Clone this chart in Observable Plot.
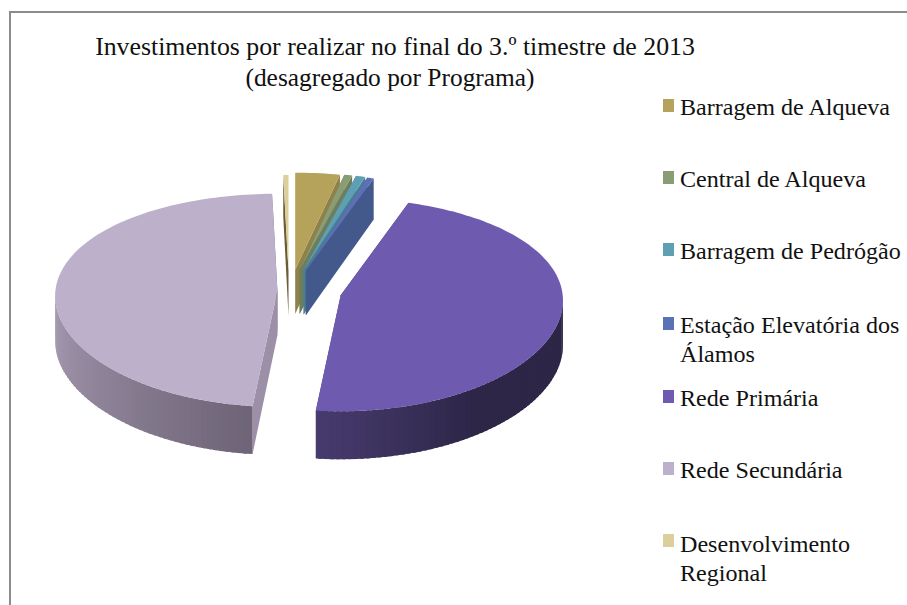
<!DOCTYPE html>
<html lang="pt">
<head>
<meta charset="utf-8">
<script src="https://cdn.jsdelivr.net/npm/d3@7"></script>
<script src="https://cdn.jsdelivr.net/npm/@observablehq/plot@0.6"></script>
<style>
  html, body { margin: 0; padding: 0; background: #fff; }
  #chart { position: relative; width: 907px; height: 605px; overflow: hidden; font-family: "Liberation Serif", serif; color: #111; }
  #chart svg { position: absolute; left: 0; top: 0; }
  .frame { position: absolute; left: 9px; top: 11px; width: 910px; height: 620px; border: 2px solid #8c8c8c; box-sizing: border-box; }
  .title { position: absolute; left: 95px; width: 600px; text-align: center; top: 32px; font-size: 25.8px; line-height: 30px; white-space: nowrap; }
  .title span { position: relative; left: -5px; font-size: 25.4px; }
  .item { position: absolute; left: 680px; font-size: 24.1px; line-height: 28.5px; white-space: nowrap; }
  .swatch { position: absolute; left: 663px; width: 11px; height: 13px; }
</style>
</head>
<body>
<div id="chart"></div>
<script>
// Investment still to be carried out, share per programme (%)
const programmes = ["Barragem de Alqueva", "Central de Alqueva", "Barragem de Pedrógão", "Estação Elevatória dos Álamos", "Rede Primária", "Rede Secundária", "Desenvolvimento Regional"];
const shares = [3.4, 0.6, 0.7, 0.5, 46.5, 47.9, 0.4];
const topColours = ["#b5a35b", "#8a9c74", "#5f9fb4", "#5a72b5", "#6e5bb0", "#bdb0ca", "#dccf9b"];
const wallNear = ["#8f8148", "#6e7d5c", "#4a7f90", "#43598c", "#483c70", "#6f6578", "#6a5d35"];
const wallFar = ["#8f8148", "#6e7d5c", "#4a7f90", "#43598c", "#2d2647", "#ab9fb6", "#6a5d35"];

// Exploded position of each wedge's tip, in pie radii from the chart origin
const tipX = [-0.06, -0.04, -0.022, -0.012, 0.145, -0.14, -0.09];
const tipY = [-0.13, -0.13, -0.128, -0.125, -0.015, -0.035, -0.12];

// Projection of the tilted disc: unit disc coordinates to scale units
const squash = 0.48, depth = 0.2, persX = 0.05, persY = 0.09;
const project = (th, r, tip, z = 0) => {
  const u = r * Math.sin(th), v = -r * Math.cos(th);
  return {
    x: tipX[tip] + u * (1 + persX * v),
    y: tipY[tip] + squash * v * (1 + persY * v) + z * depth * (1 + 0.08 * v)
  };
};

const rows = [];
const polygon = (id, fill, pts) => pts.forEach((p) => rows.push({id, fill, x: p.x, y: p.y}));
const arc = (a0, a1, tip, z, n) => d3.range(n + 1).map((i) => project(a0 + (a1 - a0) * i / n, 1, tip, z));

const total = d3.sum(shares);
let start = 0;
const wedges = shares.map((s, i) => {
  const a0 = start;
  const a1 = start + s / total * 2 * Math.PI;
  start = a1;
  return {i, a0, a1};
});

// Rim shading along a wedge: 0 at its clockwise-first end, 1 at the other.
// Rede Primária stays at its darkest until just past the lowest point of the disc.
const rimShade = (i, t) => i === 4 ? 1 - Math.max(0, (t - 0.55) / 0.45) : t;

// Painter's order: the wedges at the back first, then the two large ones
const order = [6, 0, 1, 2, 3, 4, 5];
for (const {i, a0, a1} of order.map((k) => wedges[k])) {
  const tipTop = project(0, 0, i), tipLow = project(0, 0, i, 1);
  const shade = d3.interpolateRgb(wallNear[i], wallFar[i]);

  // Cut faces of the wedge
  polygon(`${i}-end`, wallNear[i], [tipTop, project(a1, 1, i), project(a1, 1, i, 1), tipLow]);
  polygon(`${i}-start`, i === 5 ? "#9c8fa7" : wallNear[i], [tipTop, project(a0, 1, i), project(a0, 1, i, 1), tipLow]);

  // Rim, shaded strip by strip; each strip runs under the next one so no seams show
  const lo = Math.max(a0, Math.PI / 2), hi = Math.min(a1, 3 * Math.PI / 2);
  if (hi > lo) {
    const steps = Math.ceil((hi - lo) / (Math.PI / 120));
    const step = (hi - lo) / steps;
    for (let k = steps - 1; k >= 0; --k) {
      const b0 = lo + step * k, b1 = Math.min(hi, b0 + step * 1.6);
      polygon(`${i}-rim-${k}`, shade(rimShade(i, (b0 - lo) / (hi - lo))),
        [project(b0, 1, i), project(b1, 1, i), project(b1, 1, i, 1), project(b0, 1, i, 1)]);
    }
  }

  // Top face
  polygon(`${i}-top`, topColours[i], [tipTop, ...arc(a0, a1, i, 0, Math.max(6, Math.ceil((a1 - a0) * 40)))]);
}

// One radius of the pie is 222 px wide; y uses the same unit length
const radius = 222, originX = 308, originY = 298;
const chart = Plot.plot({
  width: 907,
  height: 605,
  margin: 0,
  x: {domain: [-originX / radius, (907 - originX) / radius], range: [0, 907], axis: null},
  y: {domain: [-originY / radius, (605 - originY) / radius], range: [0, 605], axis: null},
  color: {type: "identity"},
  style: {background: "transparent"},
  marks: [
    Plot.line(rows, {x: "x", y: "y", z: "id", fill: "fill", stroke: "none", curve: "linear-closed"})
  ]
});

const root = document.getElementById("chart");
const add = (cls, css, text) => {
  const el = document.createElement("div");
  el.className = cls;
  el.style.cssText = css;
  if (text) el.innerHTML = text;
  root.appendChild(el);
};
root.appendChild(chart);
add("frame", "");
add("title", "", "Investimentos por realizar no final do 3.º timestre de 2013<br><span>(desagregado por Programa)</span>");

// Legend entries, with the long names wrapped on two lines
const legendTop = [93, 165, 237, 311, 384, 456, 530];
const swatchTop = [99, 171, 243, 317, 390, 462, 534];
const legendLines = [programmes[0], programmes[1], programmes[2], "Estação Elevatória dos<br>Álamos", programmes[4], programmes[5], "Desenvolvimento<br>Regional"];
legendLines.forEach((label, i) => {
  add("item", `top:${legendTop[i]}px`, label);
  add("swatch", `top:${swatchTop[i]}px;background:${topColours[i]}`);
});
</script>
</body>
</html>
